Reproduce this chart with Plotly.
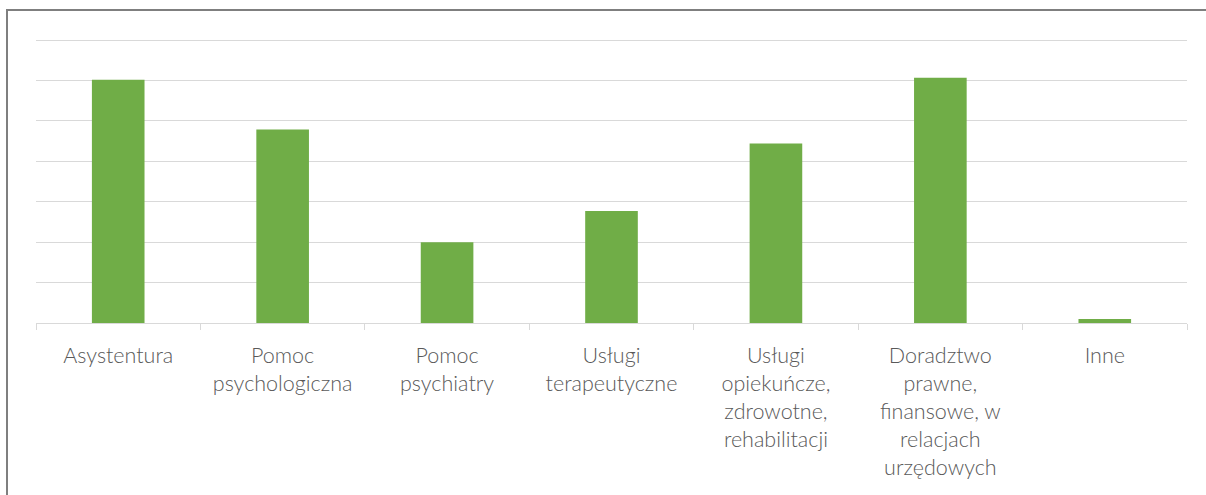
import plotly.graph_objects as go

categories = [
    "Asystentura",
    "Pomoc<br>psychologiczna",
    "Pomoc<br>psychiatry",
    "Usługi<br>terapeutyczne",
    "Usługi<br>opiekuńcze,<br>zdrowotne,<br>rehabilitacji",
    "Doradztwo<br>prawne,<br>finansowe, w<br>relacjach<br>urzędowych",
    "Inne",
]
values = [6.02, 4.79, 2.0, 2.77, 4.44, 6.07, 0.1]

fig = go.Figure(
    go.Bar(x=categories, y=values, marker=dict(color="#70AD47", line=dict(width=0)))
)

W, H = 1206, 495
L, R, T, B = 36, 19, 32, 172
pw, ph = W - L - R, H - T - B

fig.update_layout(
    width=W,
    height=H,
    margin=dict(l=L, r=R, t=T, b=B),
    paper_bgcolor="white",
    plot_bgcolor="white",
    bargap=0.68,
    showlegend=False,
    font=dict(family="Lato, Open Sans, sans-serif", size=21.5, color="#595959", weight=300),
    xaxis=dict(
        type="category",
        tickson="boundaries",
        ticks="outside",
        ticklen=6,
        tickcolor="#d9d9d9",
        tickwidth=1,
        showline=True,
        linecolor="#d9d9d9",
        linewidth=1,
        showgrid=False,
        ticklabelstandoff=13,
    ),
    yaxis=dict(
        range=[0, 7.2],
        tickvals=[1, 2, 3, 4, 5, 6, 7],
        showticklabels=False,
        showgrid=True,
        gridcolor="#d9d9d9",
        gridwidth=1,
        zeroline=False,
        ticks="",
    ),
    shapes=[
        dict(
            type="rect",
            xref="paper",
            yref="paper",
            x0=(7 - L) / pw,
            x1=1.2,
            y0=-1.0,
            y1=(H - B - 10) / ph,
            line=dict(color="#7f7f7f", width=2),
            fillcolor="rgba(0,0,0,0)",
            layer="below",
        )
    ],
)

fig.write_html(
    "out.html",
    config={"displayModeBar": False},
    post_script="document.body.style.margin='0';",
)
